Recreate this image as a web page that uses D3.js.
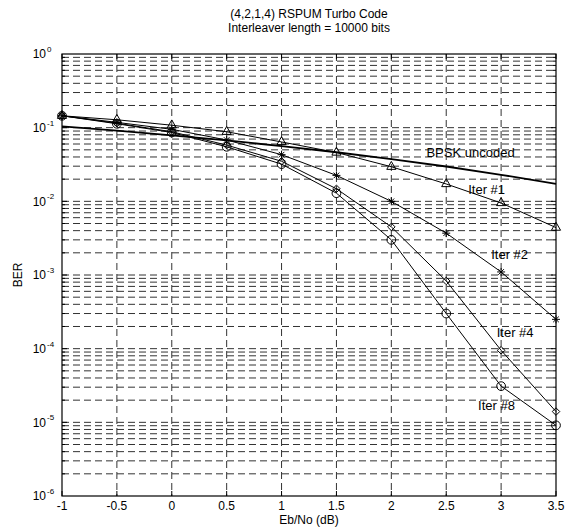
<!DOCTYPE html>
<html>
<head>
<meta charset="utf-8">
<script src="https://cdn.jsdelivr.net/npm/d3@7"></script>
<style>
  body { margin: 0; background: #fff; }
  text { font-family: "Liberation Sans", Arial, sans-serif; fill: #000; }
</style>
</head>
<body>
<svg id="chart" width="573" height="527"></svg>
<script>
// Eb/No points (dB)
const ebno = [-1, -0.5, 0, 0.5, 1, 1.5, 2, 2.5, 3, 3.5];

// BER
const bpsk  = [0.104, 0.0912, 0.0786, 0.0671, 0.0563, 0.0464, 0.0375, 0.0297, 0.0229, 0.0173];
const iter1 = [0.145, 0.128, 0.108, 0.088, 0.064, 0.046, 0.0295, 0.0172, 0.0095, 0.0044];
const iter2 = [0.145, 0.118, 0.095, 0.068, 0.043, 0.0225, 0.0100, 0.0037, 0.0011, 0.00025];
const iter4 = [0.145, 0.115, 0.088, 0.058, 0.035, 0.0148, 0.0045, 0.00083, 0.000095, 0.000014];
const iter8 = [0.145, 0.113, 0.086, 0.055, 0.032, 0.0129, 0.0030, 0.00030, 0.000031, 0.0000091];

const xTicks = [-1, -0.5, 0, 0.5, 1, 1.5, 2, 2.5, 3, 3.5];
const yExps = [0, -1, -2, -3, -4, -5, -6];

const titleLines = ["(4,2,1,4) RSPUM Turbo Code", "Interleaver length = 10000 bits"];

// curve labels: text and where they sit (data units, left edge / vertical centre)
const labels = [
  { text: "BPSK uncoded", x: 2.32, y: 0.0468 },
  { text: "Iter #1", x: 2.70, y: 0.0147 },
  { text: "Iter #2", x: 2.91, y: 0.00193 },
  { text: "Iter #4", x: 2.96, y: 0.000168 },
  { text: "Iter #8", x: 2.79, y: 0.0000172 }
];

const L = 62, R = 556, T = 54, B = 496;
const svg = d3.select("#chart");

const x = d3.scaleLinear().domain([-1, 3.5]).range([L, R]);
const y = d3.scaleLog().domain([1e-6, 1]).range([B, T]);

// grid lines (major + log minor), dashed
const grid = svg.append("g")
    .attr("stroke", "#333")
    .attr("stroke-width", 1)
    .attr("stroke-dasharray", "7,4");

xTicks.slice(1, -1).forEach(v => {
  grid.append("line")
      .attr("x1", x(v)).attr("x2", x(v))
      .attr("y1", T).attr("y2", B);
});

const yMinor = [];
for (let e = -6; e < 0; e++) {
  for (let m = 1; m < 10; m++) {
    const v = m * Math.pow(10, e);
    if (!(m === 1 && e === -6)) yMinor.push(v);
  }
}
yMinor.forEach(v => {
  grid.append("line")
      .attr("x1", L).attr("x2", R)
      .attr("y1", y(v)).attr("y2", y(v));
});

// ticks inside the frame
const ticks = svg.append("g").attr("stroke", "#000").attr("stroke-width", 1);
xTicks.forEach(v => {
  ticks.append("line").attr("x1", x(v)).attr("x2", x(v)).attr("y1", B).attr("y2", B - 5);
  ticks.append("line").attr("x1", x(v)).attr("x2", x(v)).attr("y1", T).attr("y2", T + 5);
});
yMinor.forEach(v => {
  const len = Number.isInteger(Math.log10(v)) ? 5 : 3;
  ticks.append("line").attr("x1", L).attr("x2", L + len).attr("y1", y(v)).attr("y2", y(v));
  ticks.append("line").attr("x1", R).attr("x2", R - len).attr("y1", y(v)).attr("y2", y(v));
});

// frame
svg.append("rect")
    .attr("x", L).attr("y", T)
    .attr("width", R - L).attr("height", B - T)
    .attr("fill", "none")
    .attr("stroke", "#000")
    .attr("stroke-width", 1.2);

// x tick labels
svg.append("g").selectAll("text")
  .data(xTicks)
  .join("text")
    .attr("x", d => x(d))
    .attr("y", B + 14)
    .attr("text-anchor", "middle")
    .attr("font-size", 12)
    .text(d => d);

// y tick labels 10^n
const yl = svg.append("g").selectAll("g")
  .data(yExps)
  .join("g")
    .attr("transform", d => `translate(${L - 16},${y(Math.pow(10, d))})`);
yl.append("text")
    .attr("text-anchor", "end")
    .attr("dy", "0.35em")
    .attr("font-size", 12)
    .text("10");
yl.append("text")
    .attr("x", 1)
    .attr("dy", "-0.25em")
    .attr("font-size", 8)
    .text(d => d);

// axis titles
svg.append("text")
    .attr("x", (L + R) / 2)
    .attr("y", 524)
    .attr("text-anchor", "middle")
    .attr("font-size", 12)
    .text("Eb/No (dB)");

svg.append("text")
    .attr("transform", `translate(22,${(T + B) / 2}) rotate(-90)`)
    .attr("text-anchor", "middle")
    .attr("font-size", 12)
    .text("BER");

svg.append("g").selectAll("text")
  .data(titleLines)
  .join("text")
    .attr("x", (L + R) / 2)
    .attr("y", (d, i) => 18 + i * 14)
    .attr("text-anchor", "middle")
    .attr("font-size", 12)
    .text(d => d);

// curves
const line = d3.line()
    .x((d, i) => x(ebno[i]))
    .y(d => y(d));

const curves = [
  { data: bpsk, marker: null, width: 1.8 },
  { data: iter1, marker: "triangle", width: 1 },
  { data: iter2, marker: "star", width: 1 },
  { data: iter4, marker: "diamond", width: 1 },
  { data: iter8, marker: "circle", width: 1 }
];

const sym = {
  triangle: d3.symbol().type(d3.symbolTriangle2).size(60)(),
  diamond: d3.symbol().type(d3.symbolDiamond2).size(36)(),
  circle: d3.symbol().type(d3.symbolCircle).size(60)(),
  star: "M0,-4V4M-4,0H4M-2.8,-2.8L2.8,2.8M-2.8,2.8L2.8,-2.8"
};

curves.forEach(c => {
  svg.append("path")
      .attr("d", line(c.data))
      .attr("fill", "none")
      .attr("stroke", "#000")
      .attr("stroke-width", c.width);
  if (c.marker) {
    svg.append("g").selectAll("path")
      .data(c.data)
      .join("path")
        .attr("transform", (d, i) => `translate(${x(ebno[i])},${y(d)})`)
        .attr("d", sym[c.marker])
        .attr("fill", "none")
        .attr("stroke", "#000")
        .attr("stroke-width", 1);
  }
});

// curve labels
svg.append("g").selectAll("text")
  .data(labels)
  .join("text")
    .attr("x", d => x(d.x))
    .attr("y", d => y(d.y))
    .attr("dy", "0.35em")
    .attr("font-size", 13)
    .text(d => d.text);
</script>
</body>
</html>
